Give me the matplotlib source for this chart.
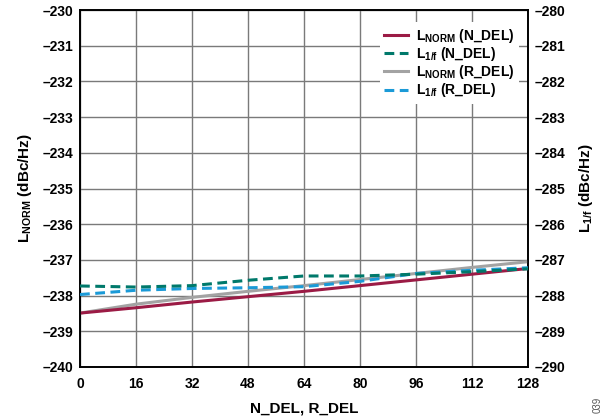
import matplotlib
matplotlib.use("Agg")
import matplotlib.pyplot as plt

plt.rcParams['font.family'] = ['Liberation Sans', 'DejaVu Sans']
plt.rcParams['font.weight'] = 'bold'
plt.rcParams['mathtext.fontset'] = 'custom'
plt.rcParams['mathtext.rm'] = 'Liberation Sans:bold'
plt.rcParams['mathtext.bf'] = 'Liberation Sans:bold'
plt.rcParams['mathtext.it'] = 'Liberation Sans:bold'

# Data
x_del = [0, 16, 32, 48, 64, 80, 96, 112, 128]
lnorm_n = [-238.49, -238.34, -238.18, -238.03, -237.88, -237.72, -237.56, -237.40, -237.24]
lnorm_r = [-238.49, -238.24, -238.05, -237.88, -237.72, -237.55, -237.38, -237.21, -237.05]
l1f_n = [-287.73, -287.76, -287.72, -287.57, -287.45, -287.45, -287.40, -287.33, -287.25]
l1f_r = [-287.97, -287.85, -287.80, -287.78, -287.75, -287.60, -287.38, -287.29, -287.22]

x_ticks = [0, 16, 32, 48, 64, 80, 96, 112, 128]
yl_ticks = list(range(-240, -229))
yr_ticks = list(range(-290, -279))

c_red = '#9B1B45'
c_teal = '#00796B'
c_gray = '#A3A3A3'
c_blue = '#1B9AD7'

fig = plt.figure(figsize=(6.13, 4.2), dpi=100)
ax = fig.add_axes([0.1305, 0.1262, 0.7308, 0.8498])
ax2 = ax.twinx()

ax.set_xlim(0, 128)
ax.set_ylim(-240, -230)
ax2.set_ylim(-290, -280)
ax.set_xticks(x_ticks)
ax.set_yticks(yl_ticks)
ax2.set_yticks(yr_ticks)
ax.set_xticklabels([str(v) for v in x_ticks])
ax.set_yticklabels([f"\u2013{abs(v)}" for v in yl_ticks])
ax2.set_yticklabels([f"\u2013{abs(v)}" for v in yr_ticks])

ax.grid(True, color='#7a7a7a', linewidth=1.0)
ax.set_axisbelow(True)
for a in (ax, ax2):
    for s in a.spines.values():
        s.set_linewidth(1.2)
        s.set_color('black')
    a.tick_params(length=0, labelsize=10, pad=5)
ax.tick_params(axis='x', pad=7)

l1, = ax.plot(x_del, lnorm_n, color=c_red, lw=2.2, zorder=5)
l3, = ax.plot(x_del, lnorm_r, color=c_gray, lw=2.2, zorder=4)
l2, = ax2.plot(x_del, l1f_n, color=c_teal, lw=2.2, dashes=(3.2, 1.8), zorder=5)
l4, = ax2.plot(x_del, l1f_r, color=c_blue, lw=2.2, dashes=(3.2, 1.8), zorder=4)

leg = ax2.legend([l1, l2, l3, l4],
                 ['L$_\\mathrm{NORM}$ (N_DEL)', 'L$_\\mathrm{1/f}$ (N_DEL)',
                  'L$_\\mathrm{NORM}$ (R_DEL)', 'L$_\\mathrm{1/f}$ (R_DEL)'],
                 loc='upper right', bbox_to_anchor=(0.995, 0.985), frameon=True,
                 fancybox=False, edgecolor='none', framealpha=1.0,
                 fontsize=10, handlelength=1.7, handletextpad=0.6,
                 labelspacing=0.02, borderpad=0.3)

ax.set_xlabel('N_DEL, R_DEL', fontsize=11, fontweight='bold', labelpad=8)
ax.set_ylabel('L$_\\mathrm{NORM}$ (dBc/Hz)', fontsize=11, fontweight='bold', labelpad=6)
ax2.set_ylabel('L$_\\mathrm{1/f}$ (dBc/Hz)', fontsize=11, fontweight='bold', rotation=90, labelpad=8)

fig.text(0.975, 0.035, '039', rotation=90, fontsize=7, color='#555555',
         fontweight='normal', ha='center', va='center')

fig.savefig('out.png', dpi=100)
